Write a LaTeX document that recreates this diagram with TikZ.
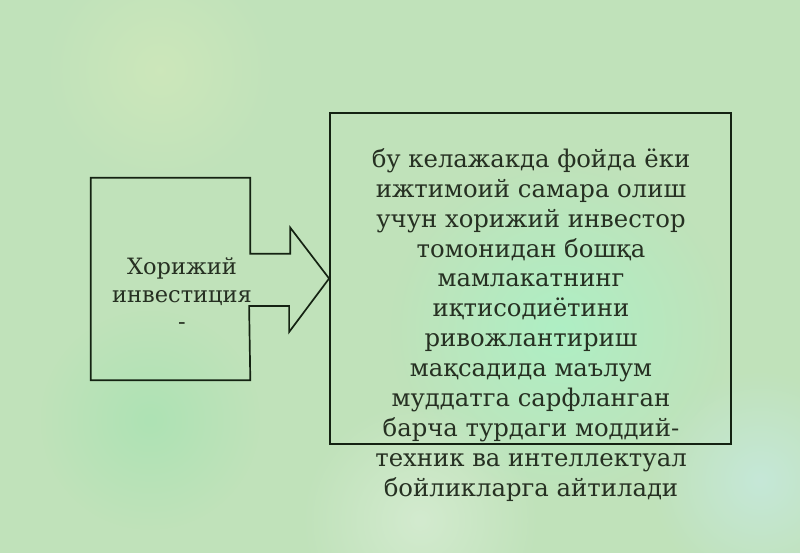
\documentclass[tikz,border=0pt]{standalone}
\usepackage{fontspec}
\setmainfont{DejaVu Serif}
\usetikzlibrary{positioning,fadings}

\definecolor{paper}{RGB}{192,226,186}
\definecolor{ink}{RGB}{20,34,18}
\definecolor{inktext}{RGB}{38,48,34}

\tikzfading[name=soft spot, inner color=transparent!0, outer color=transparent!100]

\tikzset{
  frame/.style={draw=ink, line width=1.2pt, line join=miter},
  boxtext/.style={text=inktext, font=\fontsize{17.3}{21.3}\selectfont, align=center, inner sep=0pt},
  blob/.style={path fading=soft spot},
}

\begin{document}
\begin{tikzpicture}[x=0.025cm,y=-0.025cm]
  \useasboundingbox (0,0) rectangle (800,553);

  % watercolour paper
  \fill[paper] (0,0) rectangle (800,553);
  \fill[blob, yellow!25!white, opacity=0.2] (160,70) circle (120);
  \fill[blob, green!45!cyan!40!white, opacity=0.45] (560,330) circle (170);
  \fill[blob, green!50!teal!45!white, opacity=0.35] (150,420) circle (110);
  \fill[blob, cyan!20!white, opacity=0.45] (760,480) circle (110);
  \fill[blob, white, opacity=0.3] (420,520) circle (120);

  % boxes
  \node[minimum width=3.975cm, minimum height=5.05cm, inner sep=0pt] (src) at (170.5,279) {};
  \node[frame, minimum width=10.025cm, minimum height=8.275cm, inner sep=0pt] (defbox) at (530.5,278.5) {};

  % left box and block arrow
  \draw[frame] (src.north west) -- (src.north east) -- ++(0,76) -- ++(40,0) -- ++(0,-26)
    -- (defbox.west) -- ++(-40,53.5) -- ++(0,-26) -- ++(-40,0)
    -- (src.south east) -- (src.south west) -- cycle;

  \node[boxtext, font=\fontsize{16}{19.5}\selectfont] (srctext) at (182,294) {Хорижий\\инвестиция\\-};

  \node[boxtext] (deftext) at (531,325) {бу келажакда фойда ёки\\
    ижтимоий самара олиш\\
    учун хорижий инвестор\\
    томонидан бошқа\\
    мамлакатнинг\\
    иқтисодиётини\\
    ривожлантириш\\
    мақсадида маълум\\
    муддатга сарфланган\\
    барча турдаги моддий-\\
    техник ва интеллектуал\\
    бойликларга айтилади};
\end{tikzpicture}
\end{document}
